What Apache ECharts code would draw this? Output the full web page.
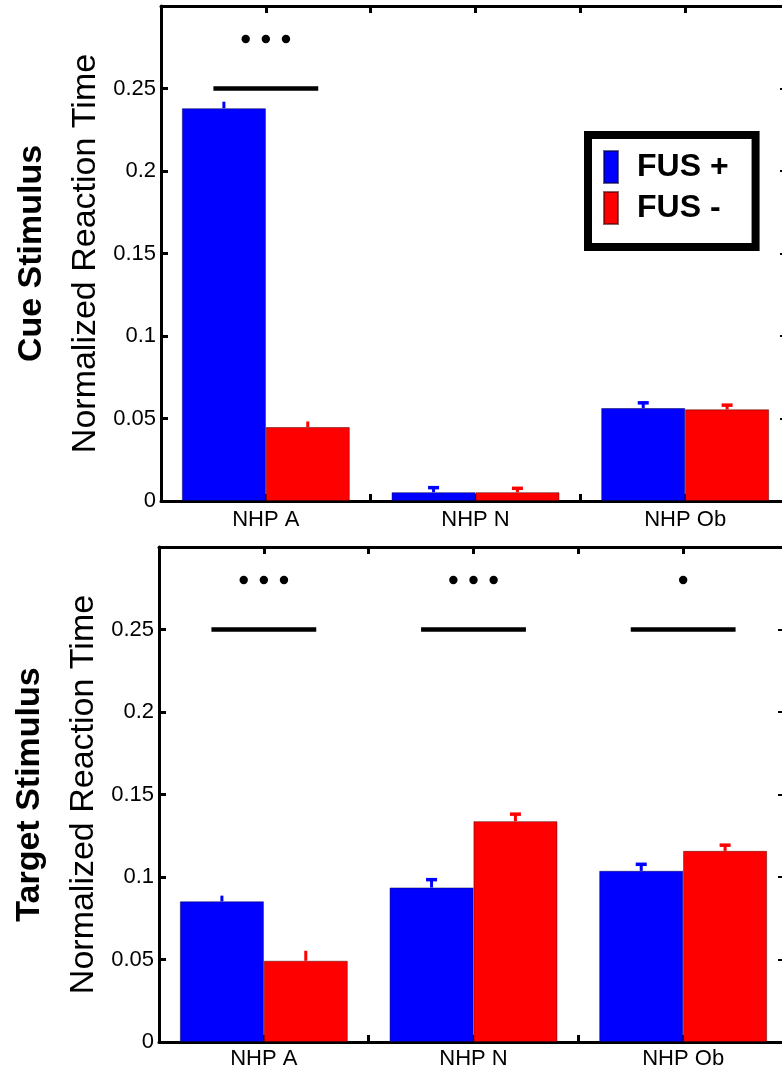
<!DOCTYPE html>
<html>
<head>
<meta charset="utf-8">
<script src="https://cdn.jsdelivr.net/npm/echarts@6/dist/echarts.min.js"></script>
<style>
html,body{margin:0;padding:0;background:#fff;}
#chart{width:782px;height:1072px;}
</style>
</head>
<body>
<div id="chart"></div>
<script>
// ---- data ----
var categories = ['NHP A', 'NHP N', 'NHP Ob'];
var seriesNames = ['FUS +', 'FUS -'];
var cueFusPlus = [0.238, 0.0053, 0.0563];
var cueFusPlusErr = [0.004, 0.0034, 0.0038];
var cueFusMinus = [0.0448, 0.0053, 0.0555];
var cueFusMinusErr = [0.0034, 0.003, 0.0032];
var targetFusPlus = [0.0852, 0.0936, 0.1037];
var targetFusPlusErr = [0.0035, 0.0054, 0.0046];
var targetFusMinus = [0.0492, 0.1338, 0.1158];
var targetFusMinusErr = [0.0061, 0.0049, 0.0041];
var cueSigStars = [3, 0, 0];
var targetSigStars = [3, 3, 1];
var sigLineLevel = 0.25;
var sigDotLevel = 0.28;
var yMax = 0.3;
var yStep = 0.05;
var panelTitles = ['Cue Stimulus', 'Target Stimulus'];
var yAxisTitle = 'Normalized Reaction Time';

// ---- styles ----
var FONT = "'Liberation Sans', Arial, Helvetica, sans-serif";
var BLUE = '#0000FF', RED = '#FF0000';

var chart = echarts.init(document.getElementById('chart'), null, {renderer: 'canvas'});

function visibleX(gridIndex, position, showLabels, margin) {
  return {
    type: 'value', gridIndex: gridIndex, position: position,
    min: 0.5, max: categories.length + 0.5, interval: 0.5,
    axisLine: {show: true, onZero: false, lineStyle: {color: '#000', width: 3}},
    axisTick: {show: true, inside: true, length: 7, lineStyle: {color: '#000', width: 3}},
    axisLabel: {
      show: showLabels, margin: margin, fontFamily: FONT, fontSize: 22, color: '#000',
      formatter: function (v) {
        var r = Math.round(v);
        return (Math.abs(v - r) < 1e-6 && r >= 1 && r <= categories.length) ? categories[r - 1] : '';
      }
    },
    splitLine: {show: false}
  };
}
function catX(gridIndex) {
  return {type: 'category', gridIndex: gridIndex, data: categories, show: false, boundaryGap: true};
}
function leftY(gridIndex) {
  return {
    type: 'value', gridIndex: gridIndex, position: 'left', min: 0, max: yMax, interval: yStep,
    axisLine: {show: true, onZero: false, lineStyle: {color: '#000', width: 3}},
    axisTick: {show: true, inside: true, length: 7, lineStyle: {color: '#000', width: 3}},
    axisLabel: {
      margin: 5, fontFamily: FONT, fontSize: 22, color: '#000',
      formatter: function (v) { return v > yMax - 1e-6 ? '' : String(+v.toFixed(2)); }
    },
    splitLine: {show: false},
    name: yAxisTitle, nameLocation: 'middle', nameGap: 56,
    nameTextStyle: {fontFamily: FONT, fontSize: 34, color: '#000'}
  };
}
function rightY(gridIndex) {
  return {
    type: 'value', gridIndex: gridIndex, position: 'right', min: 0, max: yMax, interval: yStep,
    axisLine: {show: true, onZero: false, lineStyle: {color: '#000', width: 3}},
    axisTick: {show: true, inside: true, length: 10, lineStyle: {color: '#000', width: 2}},
    axisLabel: {show: false}, splitLine: {show: false}
  };
}
function titleY(gridIndex, title) {
  return {
    type: 'value', gridIndex: gridIndex, position: 'left', min: 0, max: yMax,
    axisLine: {show: false}, axisTick: {show: false}, axisLabel: {show: false}, splitLine: {show: false},
    name: title, nameLocation: 'middle', nameGap: 112,
    nameTextStyle: {fontFamily: FONT, fontSize: 34, fontWeight: 'bold', color: '#000'}
  };
}

function errorRender(side, color) {
  return function (params, api) {
    var idx = api.value(0), v = api.value(1), e = api.value(2);
    var base = api.coord([idx, v]);
    var top = api.coord([idx, v + e]);
    var band = api.size([1, 0])[0];
    var x = base[0] + side * band * 0.2;
    var children = [{
      type: 'line', shape: {x1: x, y1: base[1], x2: x, y2: top[1]},
      style: {stroke: color, lineWidth: 3}
    }];
    if (idx > 0) {
      children.push({
        type: 'line', shape: {x1: x - 5.5, y1: top[1] + 1, x2: x + 5.5, y2: top[1] + 1},
        style: {stroke: color, lineWidth: 3.5}
      });
    }
    return {type: 'group', children: children};
  };
}
function sigRender(params, api) {
  var idx = api.value(0), n = api.value(3);
  var band = api.size([1, 0])[0];
  var lp = api.coord([idx, api.value(1)]);
  var dp = api.coord([idx, api.value(2)]);
  var children = [{
    type: 'line', shape: {x1: lp[0] - band * 0.25, y1: lp[1], x2: lp[0] + band * 0.25, y2: lp[1]},
    style: {stroke: '#000', lineWidth: 4.5}
  }];
  for (var k = 0; k < n; k++) {
    children.push({
      type: 'circle', shape: {cx: dp[0] + (k - (n - 1) / 2) * band * 0.096, cy: dp[1], r: 4.2},
      style: {fill: '#000'}
    });
  }
  return {type: 'group', children: children};
}

function panelSeries(gi, plus, plusErr, minus, minusErr, stars) {
  var xi = gi * 3, yi = gi * 3;
  var bars = [
    {name: seriesNames[0], type: 'bar', xAxisIndex: xi, yAxisIndex: yi, data: plus,
     barWidth: '40%', barGap: '0%', itemStyle: {color: BLUE, borderColor: 'rgba(0,0,60,0.6)', borderWidth: 0.8}, z: 2},
    {name: seriesNames[1], type: 'bar', xAxisIndex: xi, yAxisIndex: yi, data: minus,
     barWidth: '40%', barGap: '0%', itemStyle: {color: RED, borderColor: 'rgba(60,0,0,0.6)', borderWidth: 0.8}, z: 2}
  ];
  var err = [
    {type: 'custom', xAxisIndex: xi, yAxisIndex: yi, z: 3, renderItem: errorRender(-1, BLUE),
     encode: {x: 0, y: 1}, data: categories.map(function (c, i) { return [i, plus[i], plusErr[i]]; })},
    {type: 'custom', xAxisIndex: xi, yAxisIndex: yi, z: 3, renderItem: errorRender(1, RED),
     encode: {x: 0, y: 1}, data: categories.map(function (c, i) { return [i, minus[i], minusErr[i]]; })}
  ];
  var sigData = [];
  stars.forEach(function (s, i) { if (s > 0) sigData.push([i, sigLineLevel, sigDotLevel, s]); });
  var sig = {type: 'custom', xAxisIndex: xi, yAxisIndex: yi, z: 4, renderItem: sigRender,
             encode: {x: 0, y: 1}, data: sigData};
  return bars.concat(err, [sig]);
}

var option = {
  backgroundColor: '#fff',
  animation: false,
  textStyle: {fontFamily: FONT},
  grid: [
    {left: 161, top: 6, height: 495, width: 629, containLabel: false, outerBoundsMode: 'none'},
    {left: 159, top: 547, height: 495, width: 629, containLabel: false, outerBoundsMode: 'none'}
  ],
  xAxis: [
    catX(0), visibleX(0, 'bottom', true, 8), visibleX(0, 'top', false, 8),
    catX(1), visibleX(1, 'bottom', true, 6), visibleX(1, 'top', false, 6)
  ],
  yAxis: [
    leftY(0), rightY(0), titleY(0, panelTitles[0]),
    leftY(1), rightY(1), titleY(1, panelTitles[1])
  ],
  legend: {
    orient: 'vertical', left: 588, top: 135,
    padding: [15, 27, 22, 15],
    itemWidth: 14, itemHeight: 32, itemGap: 7, icon: 'rect',
    borderColor: '#000', borderWidth: 8, backgroundColor: '#fff',
    selectedMode: false,
    textStyle: {fontFamily: FONT, fontSize: 32, fontWeight: 'bold', color: '#000', padding: [0, 0, 0, 14], lineHeight: 32},
    data: seriesNames
  },
  series: panelSeries(0, cueFusPlus, cueFusPlusErr, cueFusMinus, cueFusMinusErr, cueSigStars)
    .concat(panelSeries(1, targetFusPlus, targetFusPlusErr, targetFusMinus, targetFusMinusErr, targetSigStars))
};
chart.setOption(option);
</script>
</body>
</html>
